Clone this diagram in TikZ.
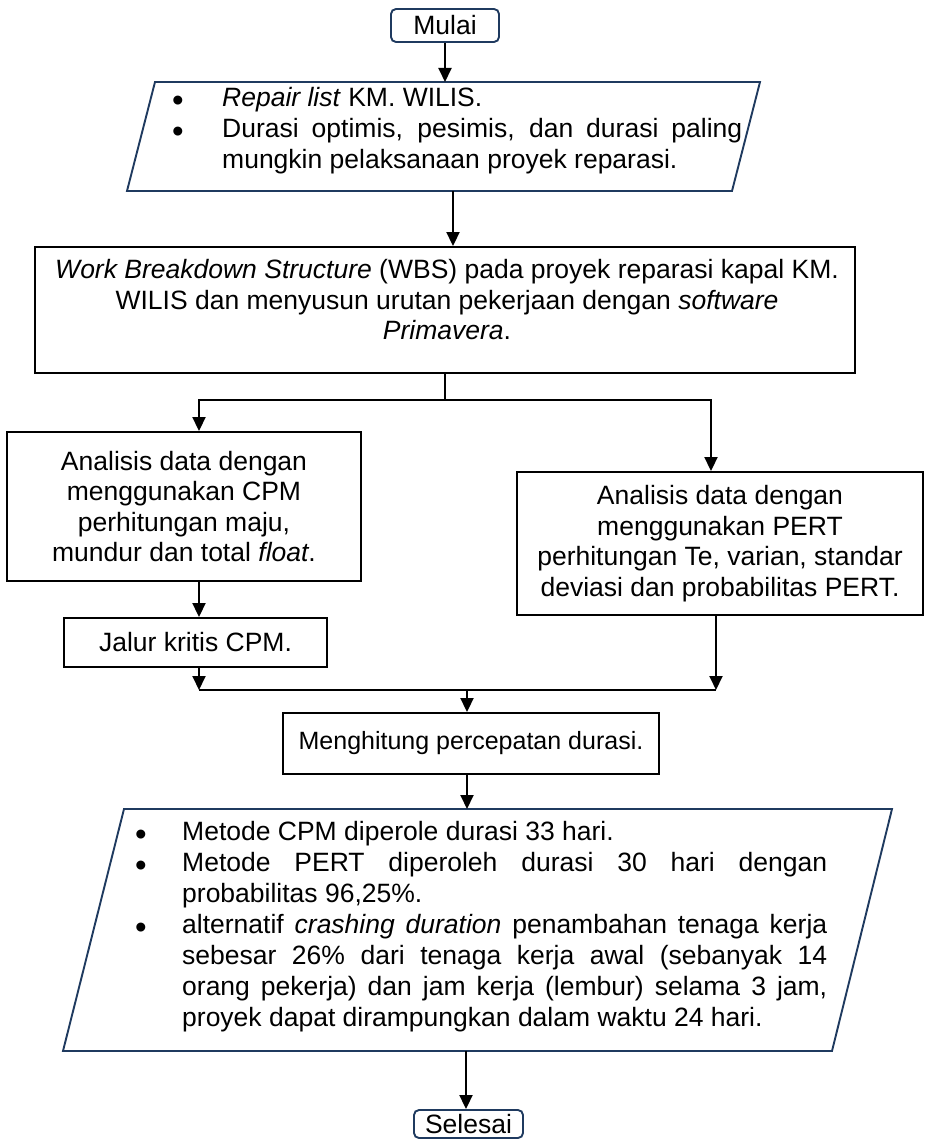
\documentclass[tikz,border=0pt]{standalone}
\usepackage{fontspec}
\setmainfont{Liberation Sans}
\usetikzlibrary{arrows.meta}
\definecolor{navy}{HTML}{1F3A5F}
\begin{document}
\begin{tikzpicture}[x=1pt,y=-1pt,
  font=\fontsize{26.5}{30.5}\selectfont,
  box/.style={draw=black, line width=1.9pt, inner sep=0pt},
  term/.style={draw=navy, line width=1.9pt, rounded corners=5pt, inner sep=0pt},
  para/.style={draw=navy, line width=1.9pt, line join=miter},
  arr/.style={line width=1.9pt, -{Triangle[length=14pt,width=13pt]}},
  ln/.style={line width=1.9pt},
  txt/.style={inner sep=0pt, anchor=mid west},
  bul/.style={inner sep=0pt, anchor=center, font=\fontsize{33}{33}\selectfont}]
\useasboundingbox (0,0) rectangle (927,1140);

% Start
\node[term, minimum width=108pt, minimum height=33pt] (mulai) at (445,25.5) {Mulai};

% Parallelogram 1
\draw[para] (155,82) -- (760,82) -- (732,191) -- (127,191) -- cycle;
\coordinate (p1t) at (445,82);
\coordinate (p1b) at (453,191);
\node[bul] (b1) at (178,104) {\textbullet};
\node[txt] (t1) at (222,104) {\textit{Repair list} KM. WILIS.};
\node[bul] (b2) at (178,135) {\textbullet};
\node[txt] (t2) at (222,135) {\makebox[520pt][s]{Durasi optimis, pesimis, dan durasi paling}};
\node[txt] (t3) at (222,166) {mungkin pelaksanaan proyek reparasi.};

% WBS
\node[box, minimum width=820pt, minimum height=126pt] (wbs) at (445,310) {};
\node[inner sep=0pt, align=center] (wbstxt) at (447,300) {\textit{Work Breakdown Structure} (WBS) pada proyek reparasi kapal KM.\\ WILIS dan menyusun urutan pekerjaan dengan \textit{software}\\ \textit{Primavera}.};

% CPM / PERT
\node[box, minimum width=354pt, minimum height=149pt, align=center] (cpm) at (184,506.5)
  {Analisis data dengan\\ menggunakan CPM\\ perhitungan maju,\\ mundur dan total \textit{float}.};
\node[box, minimum width=406pt, minimum height=143pt, align=center] (pert) at (720,543.5)
  {Analisis data dengan\\ menggunakan PERT\\ perhitungan Te, varian, standar\\ deviasi dan probabilitas PERT.};
\node[box, minimum width=263pt, minimum height=49pt] (jalur) at (195.5,642.5) {Jalur kritis CPM.};

% Menghitung
\node[box, minimum width=376pt, minimum height=61pt, font=\fontsize{25}{30}\selectfont] (hitung) at (471,743.5) {Menghitung percepatan durasi.};

% Parallelogram 2
\draw[para] (124,809) -- (892,809) -- (832,1051) -- (63,1051) -- cycle;
\coordinate (p2t) at (467,809);
\coordinate (p2b) at (466,1051);
\node[bul] (c1) at (141,838) {\textbullet};
\node[txt] (u1) at (182,838) {Metode CPM diperole durasi 33 hari.};
\node[bul] (c2) at (141,869) {\textbullet};
\node[txt] (u2) at (182,869) {\makebox[645pt][s]{Metode PERT diperoleh durasi 30 hari dengan}};
\node[txt] (u3) at (182,900) {probabilitas 96,25\%.};
\node[bul] (c3) at (141,931) {\textbullet};
\node[txt] (u4) at (182,931) {\makebox[645pt][s]{alternatif \textit{crashing duration} penambahan tenaga kerja}};
\node[txt] (u5) at (182,962) {\makebox[645pt][s]{sebesar 26\% dari tenaga kerja awal (sebanyak 14}};
\node[txt] (u6) at (182,993) {\makebox[645pt][s]{orang pekerja) dan jam kerja (lembur) selama 3 jam,}};
\node[txt] (u7) at (182,1024) {proyek dapat dirampungkan dalam waktu 24 hari.};

% End
\node[term, minimum width=109pt, minimum height=28pt] (selesai) at (468.5,1124) {Selesai};

% Connectors
\draw[arr] (mulai.south) -- (p1t);
\draw[arr] (p1b) -- (p1b |- wbs.north);
\coordinate (split) at (445,400);
\draw[ln] (wbs.south) -- (split);
\draw[arr] (split) -| ([xshift=15pt]cpm.north);
\draw[arr] (split) -| ([xshift=-9pt]pert.north);
\draw[arr] ([xshift=15pt]cpm.south) -- ([xshift=15pt]cpm.south |- jalur.north);
\coordinate (mergeL) at (199,690);
\coordinate (mergeR) at (716,690);
\coordinate (mergeM) at (467,690);
\draw[arr] (jalur.south -| mergeL) -- (mergeL);
\draw[arr] (pert.south -| mergeR) -- (mergeR);
\draw[ln] (mergeL) -- (mergeR);
\draw[arr] (mergeM) -- (mergeM |- hitung.north);
\draw[arr] (hitung.south -| p2t) -- (p2t);
\draw[arr] (p2b) -- (p2b |- selesai.north);
\end{tikzpicture}
\end{document}
